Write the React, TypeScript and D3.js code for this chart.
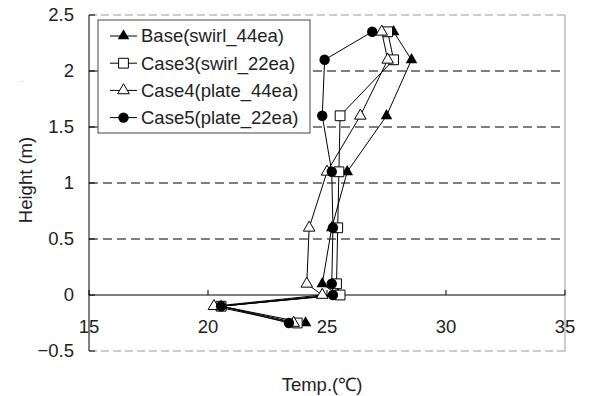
import React from "react"
import * as d3 from "d3"

// heights (m), read top to bottom
const heights = [2.35, 2.1, 1.6, 1.1, 0.6, 0.1, 0, -0.1, -0.25]
// temperatures (°C) per case
const base = [27.8, 28.55, 27.5, 25.85, 25.2, 24.8, 25.45, 20.55, 24.1]
const case3 = [27.55, 27.8, 25.55, 25.5, 25.45, 25.4, 25.55, 20.55, 23.75]
const case4 = [27.3, 27.55, 26.4, 25.0, 24.25, 24.15, 24.8, 20.25, 23.6]
const case5 = [26.9, 24.9, 24.8, 25.2, 25.25, 25.2, 25.25, 20.55, 23.4]

const seriesNames = ["Base(swirl_44ea)", "Case3(swirl_22ea)", "Case4(plate_44ea)", "Case5(plate_22ea)"]
const markers = ["triFilled", "square", "triOpen", "circle"]
const xTicks = [15, 20, 25, 30, 35]
const yTicks = [-0.5, 0, 0.5, 1, 1.5, 2, 2.5]
const gridLines = [0.5, 1, 1.5, 2]

const W = 592
const H = 396
const font = "'Liberation Sans', Arial, sans-serif"
const fs = 18.5

const x = d3.scaleLinear().domain([15, 35]).range([89, 565])
const y = d3.scaleLinear().domain([-0.5, 2.5]).range([351, 15])

const tri = d3.symbol().type(d3.symbolTriangle).size(58)()
const sq = d3.symbol().type(d3.symbolSquare).size(96)()

function Marker({ kind, cx, cy }: { kind: string; cx: number; cy: number }) {
    const t = `translate(${cx},${cy})`
    if (kind === "circle") return <circle cx={cx} cy={cy} r={5.2} fill="#000" />
    if (kind === "square") return <path d={sq!} transform={t} fill="#fff" stroke="#000" strokeWidth={1} />
    if (kind === "triOpen") return <path d={tri!} transform={t} fill="#fff" stroke="#000" strokeWidth={1} />
    return <path d={tri!} transform={t} fill="#000" />
}

export default function App() {
    const all = [base, case3, case4, case5]
    const line = d3
        .line<number>()
        .x(d => x(d))
        .y((d, i) => y(heights[i]))

    return (
        <svg width={W} height={H} style={{ position: "absolute", left: 0, top: 0, background: "#fff" }} fontFamily={font}>
            {/* frame */}
            <line x1={89} x2={565} y1={y(2.5)} y2={y(2.5)} stroke="#999" strokeDasharray="8,4" />
            <line x1={89} x2={565} y1={y(-0.5)} y2={y(-0.5)} stroke="#999" strokeDasharray="8,4" />
            <line x1={565} x2={565} y1={y(2.5)} y2={y(-0.5)} stroke="#999" />
            {gridLines.map(g => (
                <line key={g} x1={89} x2={565} y1={y(g)} y2={y(g)} stroke="#000" strokeDasharray="9,5" />
            ))}
            {/* y axis */}
            <line x1={89} x2={89} y1={y(2.5)} y2={y(-0.5)} stroke="#000" />
            {yTicks.map(t => (
                <g key={t}>
                    <line x1={89} x2={95} y1={y(t)} y2={y(t)} stroke="#000" />
                    <text x={74} y={y(t)} dy="0.35em" textAnchor="end" fontSize={fs} fill="#222">
                        {t < 0 ? "\u2212" + Math.abs(t) : t}
                    </text>
                </g>
            ))}
            {/* x axis at zero */}
            <line x1={89} x2={565} y1={y(0)} y2={y(0)} stroke="#000" />
            {xTicks.map(t => (
                <g key={t}>
                    <line x1={x(t)} x2={x(t)} y1={y(0)} y2={y(0) - 5} stroke="#000" />
                    <text x={x(t)} y={327} dy="0.35em" textAnchor="middle" fontSize={fs} fill="#222">
                        {t}
                    </text>
                </g>
            ))}
            {/* series */}
            {all.map((s, k) => (
                <path key={"l" + k} d={line(s)!} fill="none" stroke="#000" strokeWidth={1} />
            ))}
            {all.map((s, k) => (
                <g key={"m" + k}>
                    {s.map((v, i) => (
                        <Marker key={i} kind={markers[k]} cx={x(v)} cy={y(heights[i])} />
                    ))}
                </g>
            ))}
            {/* legend */}
            <rect x={98} y={20} width={212} height={113} fill="#fff" stroke="#444" />
            {seriesNames.map((n, i) => {
                const ly = 36 + i * 27.2
                return (
                    <g key={n}>
                        <line x1={110} x2={137} y1={ly} y2={ly} stroke="#000" />
                        <Marker kind={markers[i]} cx={123.5} cy={ly} />
                        <text x={141} y={ly} dy="0.35em" fontSize={fs} fill="#222">
                            {n}
                        </text>
                    </g>
                )
            })}
            {/* titles */}
            <text x={21} y={82} fontSize={8} fill="#888">.</text>
            <text transform="translate(32,180) rotate(-90)" textAnchor="middle" fontSize={fs} fill="#222">
                Height (m)
            </text>
            <text x={322} y={385} dy="0.35em" textAnchor="middle" fontSize={fs} fill="#222">
                Temp.(℃)
            </text>
        </svg>
    )
}
